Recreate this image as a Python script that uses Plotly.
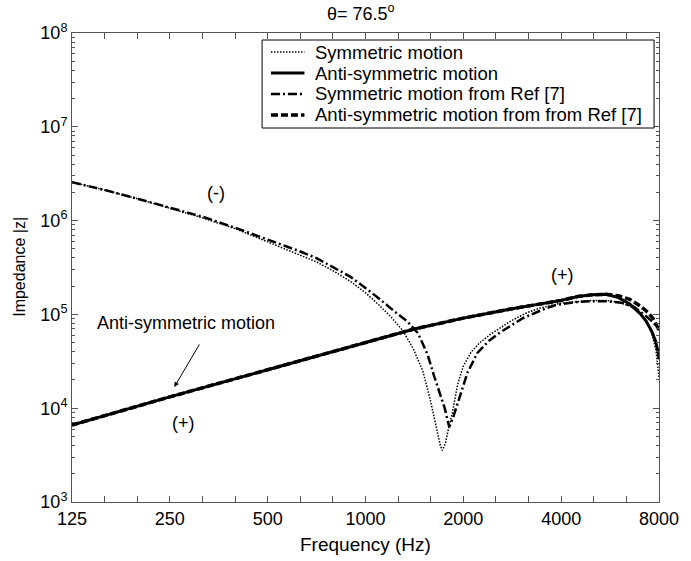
import numpy as np
import plotly.graph_objects as go

# ---- data ----
f_anti = [125, 250, 500, 1000, 1414, 2000, 2828, 4000, 4500, 5000, 5500, 6000, 6500, 7000, 7300, 7600, 7800, 7950, 8000]
z_anti = [6.61e3, 1.32e4, 2.57e4, 5.01e4, 7.00e4, 9.12e4, 1.15e5, 1.41e5, 1.55e5, 1.62e5, 1.64e5, 1.51e5, 1.29e5, 1.02e5, 8.51e4, 6.61e4, 5.25e4, 3.98e4, 3.31e4]

f_anti_ref = [125, 250, 500, 1000, 1414, 2000, 2828, 4000, 4500, 5000, 5500, 6000, 6500, 7000, 7400, 7700, 8000]
z_anti_ref = [6.61e3, 1.32e4, 2.57e4, 5.01e4, 7.00e4, 9.12e4, 1.15e5, 1.41e5, 1.55e5, 1.62e5, 1.64e5, 1.58e5, 1.45e5, 1.23e5, 1.05e5, 8.91e4, 6.76e4]

f_sym = [125, 160, 200, 250, 315, 400, 500, 630, 707, 800, 900, 1000, 1100, 1200, 1300, 1400, 1500, 1580, 1650, 1700, 1723,
         1760, 1800, 1850, 1920, 2000, 2115, 2250, 2430, 2800, 3150, 3445, 4000, 4500, 5000, 5500, 6000, 6500, 6900, 7300, 7600, 7830, 8000]
z_sym = [2.57e6, 2.09e6, 1.70e6, 1.35e6, 1.07e6, 8.13e5, 5.89e5, 4.27e5, 3.63e5, 2.88e5, 2.24e5, 1.70e5, 1.26e5, 9.33e4, 6.76e4, 4.37e4, 2.51e4, 1.26e4, 6.31e3, 3.98e3, 3.55e3,
         4.17e3, 6.03e3, 8.91e3, 1.78e4, 2.82e4, 3.98e4, 5.01e4, 6.17e4, 8.51e4, 1.05e5, 1.17e5, 1.32e5, 1.38e5, 1.41e5, 1.41e5, 1.35e5, 1.23e5, 1.10e5, 8.71e4, 6.31e4, 4.17e4, 2.14e4]

f_sym_ref = [125, 160, 200, 250, 315, 400, 500, 630, 707, 800, 900, 1000, 1100, 1230, 1350, 1450, 1550, 1630, 1700, 1750, 1810,
             1860, 1920, 2000, 2060, 2210, 2400, 2600, 3050, 3500, 3850, 4400, 4880, 5600, 6200, 6700, 7250, 7700, 8000]
z_sym_ref = [2.57e6, 2.09e6, 1.70e6, 1.38e6, 1.10e6, 8.32e5, 6.31e5, 4.68e5, 3.98e5, 3.16e5, 2.51e5, 1.91e5, 1.48e5, 1.07e5, 8.32e4, 6.31e4, 3.80e4, 2.14e4, 1.35e4, 1.02e4, 6.31e3,
             7.94e3, 1.12e4, 1.78e4, 2.40e4, 3.89e4, 5.25e4, 6.46e4, 9.12e4, 1.12e5, 1.26e5, 1.35e5, 1.38e5, 1.38e5, 1.32e5, 1.20e5, 9.77e4, 8.13e4, 6.76e4]

series_names = ["Symmetric motion", "Anti-symmetric motion",
                "Symmetric motion from Ref [7]", "Anti-symmetric motion from from Ref [7]"]

x_major = [125, 250, 500, 1000, 2000, 4000, 8000]
x_major_text = ["125", "250", "500", "1000", "2000", "4000", "8000"]
y_major = [1e3, 1e4, 1e5, 1e6, 1e7, 1e8]
y_major_text = ["10<sup>3</sup>", "10<sup>4</sup>", "10<sup>5</sup>", "10<sup>6</sup>", "10<sup>7</sup>", "10<sup>8</sup>"]

x_minor = [125 * 2 ** (k / 3) for k in range(19) if k % 3 != 0]
y_minor = [m * 10 ** e for e in range(3, 8) for m in range(2, 10)]

FONT = "Liberation Sans, Arial, Helvetica, sans-serif"
FS = 18

# plot area in pixels (for placing the hand-drawn legend in paper coordinates)
W, H = 691, 561
L, R, T, B = 72, 23, 33, 59
PW, PH = W - L - R, H - T - B
def px(x):
    return (x - L) / PW
def py(y):
    return (H - B - y) / PH

styles = [
    dict(color="black", width=1.5, dash="1.5px,1.5px"),
    dict(color="black", width=3),
    dict(color="black", width=2.5, dash="9px,3px,2px,3px"),
    dict(color="black", width=3.5, dash="7px,3px"),
]

fig = go.Figure()
for fx, zy, nm, st in zip([f_sym, f_anti, f_sym_ref, f_anti_ref],
                          [z_sym, z_anti, z_sym_ref, z_anti_ref], series_names, styles):
    fig.add_trace(go.Scatter(x=fx, y=zy, mode="lines", name=nm, line=st, showlegend=False))

axis_common = dict(showgrid=False, zeroline=False, showline=True, linecolor="#555", linewidth=1,
                   mirror="ticks", ticks="inside", tickcolor="#555", ticklen=6,
                   tickfont=dict(family=FONT, size=FS, color="black"))

fig.update_xaxes(type="log", range=[np.log10(125), np.log10(8000)],
                 tickmode="array", tickvals=x_major, ticktext=x_major_text,
                 minor=dict(tickvals=x_minor, ticks="inside", ticklen=6, tickcolor="#555"),
                 **axis_common)
fig.update_yaxes(type="log", range=[3, 8],
                 tickmode="array", tickvals=y_major, ticktext=y_major_text,
                 minor=dict(tickvals=y_minor, ticks="inside", ticklen=3, tickcolor="#555"),
                 **axis_common)

ann = [
    dict(text="\u03b8= 76.5<sup>o</sup>", xref="paper", yref="paper", x=px(365), y=py(12),
         xanchor="center", yanchor="middle", showarrow=False, font=dict(size=FS)),
    dict(text="Frequency (Hz)", xref="paper", yref="paper", x=px(370), y=py(544),
         xanchor="center", yanchor="middle", showarrow=False, font=dict(size=19)),
    dict(text="Impedance |z|", xref="paper", yref="paper", x=px(18), y=py(267),
         xanchor="center", yanchor="middle", showarrow=False, textangle=-90, font=dict(size=16)),
    dict(text="(-)", xref="x", yref="y", x=np.log10(346), y=6.294, showarrow=False, font=dict(size=FS)),
    dict(text="(+)", xref="x", yref="y", x=np.log10(4039), y=5.42, showarrow=False, font=dict(size=FS)),
    dict(text="(+)", xref="x", yref="y", x=np.log10(275), y=3.842, showarrow=False, font=dict(size=FS)),
    dict(text="Anti-symmetric motion", xref="x", yref="y", x=np.log10(146.8), y=4.908,
         xanchor="left", yanchor="middle", showarrow=False, font=dict(size=FS)),
    dict(text="", xref="x", yref="y", x=np.log10(258), y=4.226, ax=26, ay=-44,
         showarrow=True, arrowhead=2, arrowsize=1, arrowwidth=1, arrowcolor="black"),
]

# hand-drawn legend box (matching the reference's compact layout)
shapes = [dict(type="rect", xref="paper", yref="paper", x0=px(265), x1=px(663), y0=py(40), y1=py(128),
               line=dict(color="black", width=1), fillcolor="white", layer="above")]
row_y = [52, 73, 94, 115]
for nm, st, ry in zip(series_names, styles, row_y):
    shapes.append(dict(type="line", xref="paper", yref="paper", x0=px(274), x1=px(308),
                       y0=py(ry), y1=py(ry), line=st, layer="above"))
    ann.append(dict(text=nm, xref="paper", yref="paper", x=px(317), y=py(ry),
                    xanchor="left", yanchor="middle", showarrow=False, font=dict(size=18.5)))

fig.update_layout(
    width=W, height=H,
    margin=dict(l=L, r=R, t=T, b=B),
    paper_bgcolor="white", plot_bgcolor="white",
    font=dict(family=FONT, size=FS, color="black"),
    annotations=ann,
    shapes=shapes,
    showlegend=False,
)

fig.write_html("out.html")
